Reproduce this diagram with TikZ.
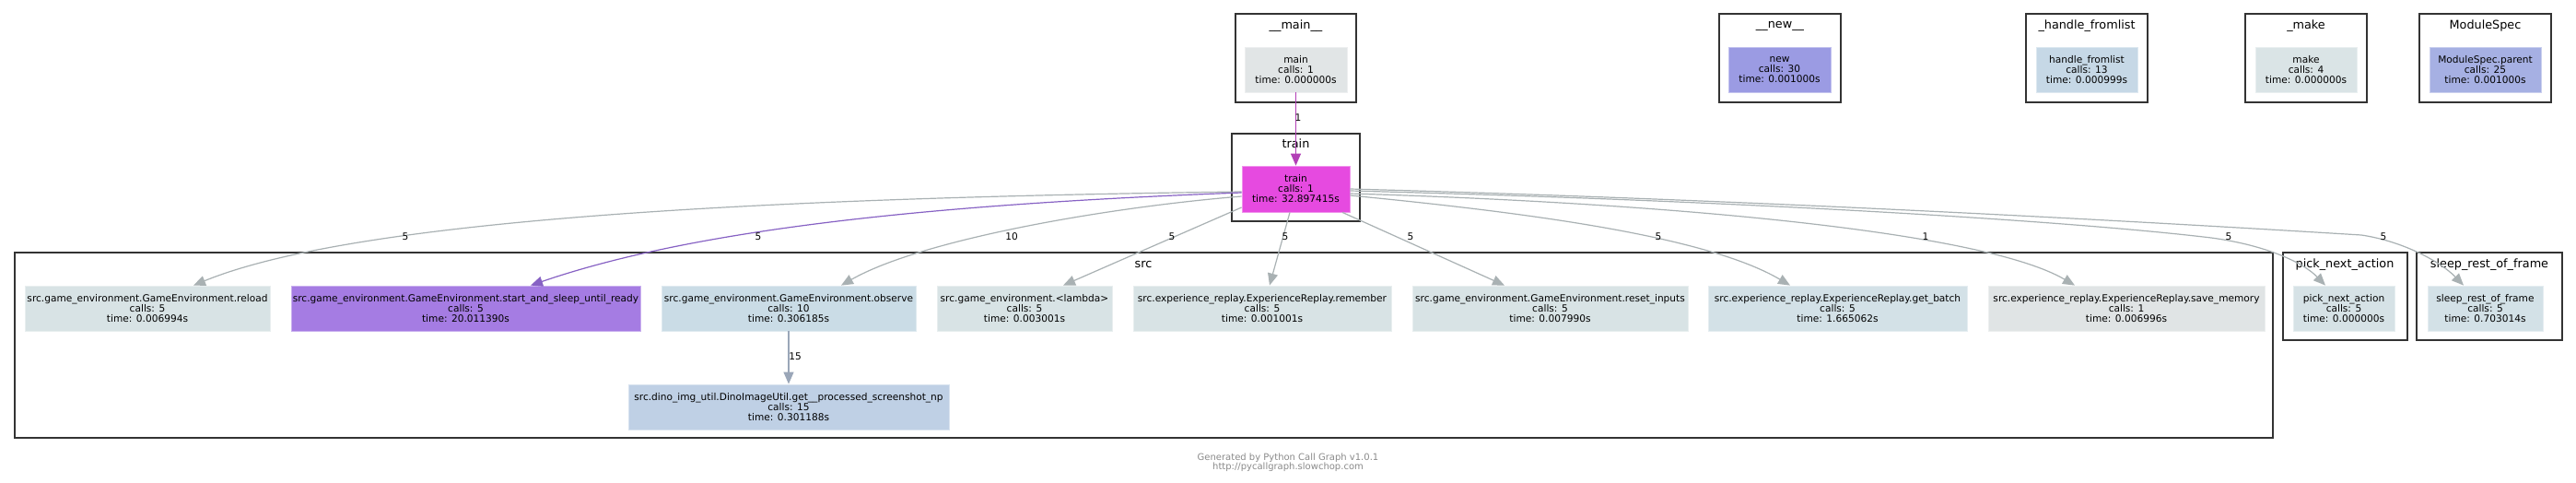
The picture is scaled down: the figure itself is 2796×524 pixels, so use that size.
\documentclass[tikz,border=0pt]{standalone}
\usepackage{fontspec}
\setmainfont{DejaVu Sans}
\usetikzlibrary{arrows.meta}
\definecolor{cFrame}{HTML}{333333}
\definecolor{cEdge}{HTML}{A9B1B3}
\definecolor{cMainEdge}{HTML}{B23FB6}
\definecolor{cStartEdge}{HTML}{8762C4}
\definecolor{cDinoEdge}{HTML}{9AA6B8}
\definecolor{cMain}{HTML}{E1E5E6}
\definecolor{cNew}{HTML}{9B9BE3}
\definecolor{cHandle}{HTML}{C6D8E6}
\definecolor{cMake}{HTML}{DAE4E6}
\definecolor{cSpec}{HTML}{A6B0E3}
\definecolor{cTrain}{HTML}{E64AE0}
\definecolor{cPale}{HTML}{D8E3E5}
\definecolor{cStart}{HTML}{A57CE3}
\definecolor{cObserve}{HTML}{CADCE6}
\definecolor{cBatch}{HTML}{D3E1E7}
\definecolor{cSave}{HTML}{E0E4E5}
\definecolor{cPick}{HTML}{D6E2E6}
\definecolor{cDino}{HTML}{BFD0E5}
\definecolor{cFoot}{HTML}{8A8A8A}
\tikzset{
  fn/.style 2 args={fill=#1, draw=#1!60!white, line width=0.4pt, minimum width=#2,
    minimum height=24.5pt, inner sep=0pt, align=center,
    font=\fontsize{5.3}{5.5}\selectfont},
  grp/.style={draw=cFrame, line width=1pt},
  grplab/.style={font=\fontsize{6.4}{7}\selectfont, inner sep=0pt},
  call/.style={draw=#1, line width=0.6pt, -{Triangle[length=6.5pt,width=5.5pt]}},
  cnt/.style={font=\fontsize{5.3}{6}\selectfont, inner sep=0pt},
  foot/.style={text=cFoot, align=center, inner sep=0pt, font=\fontsize{5}{5.2}\selectfont},
}
\begin{document}
\begin{tikzpicture}
    \begin{scope}[x=0.5pt,y=-0.5pt]
      \fill[white] (0,0) rectangle (2796,524);
      \useasboundingbox (0,0) rectangle (2796,524);
      % groups
      \draw[grp] (1341,15) rectangle (1472,111);
      \draw[grp] (1866,15) rectangle (1998,111);
      \draw[grp] (2199,15) rectangle (2331,111);
      \draw[grp] (2437,15) rectangle (2569,111);
      \draw[grp] (2626,15) rectangle (2769,111);
      \draw[grp] (1337,145) rectangle (1476,240);
      \draw[grp] (16,274) rectangle (2467,475);
      \draw[grp] (2478,274) rectangle (2613,369);
      \draw[grp] (2623,274) rectangle (2781,369);
      \node[grplab] (g-main) at (1406.5,28) {\_\_main\_\_};
      \node[grplab] (g-new) at (1932,28) {\_\_new\_\_};
      \node[grplab] (g-handle) at (2265,28) {\_handle\_fromlist};
      \node[grplab] (g-make) at (2503,28) {\_make};
      \node[grplab] (g-spec) at (2697.5,28) {ModuleSpec};
      \node[grplab] (g-train) at (1406.5,156) {train};
      \node[grplab] (g-src) at (1241,287) {src};
      \node[grplab] (g-pick) at (2545,287) {pick\_next\_action};
      \node[grplab] (g-sleep) at (2702,287) {sleep\_rest\_of\_frame};
      % functions
      \node[fn={cMain}{55.5pt}] (main) at (1406.5,75.5) {main\\calls: 1\\time: 0.000000s};
      \node[fn={cNew}{55.5pt}] (new) at (1931.5,75.5) {new\\calls: 30\\time: 0.001000s};
      \node[fn={cHandle}{55pt}] (handle) at (2265,75.5) {handle\_fromlist\\calls: 13\\time: 0.000999s};
      \node[fn={cMake}{55pt}] (make) at (2503,75.5) {make\\calls: 4\\time: 0.000000s};
      \node[fn={cSpec}{60.5pt}] (spec) at (2697.5,75.5) {ModuleSpec.parent\\calls: 25\\time: 0.001000s};
      \node[fn={cTrain}{58.5pt}, minimum height=25pt] (train) at (1406.5,205) {train\\calls: 1\\time: 32.897415s};
      \node[fn={cPale}{133pt}] (reload) at (160,334.5) {src.game\_environment.GameEnvironment.reload\\calls: 5\\time: 0.006994s};
      \node[fn={cStart}{189.5pt}] (start) at (505.5,334.5) {src.game\_environment.GameEnvironment.start\_and\_sleep\_until\_ready\\calls: 5\\time: 20.011390s};
      \node[fn={cObserve}{138pt}] (observe) at (856,334.5) {src.game\_environment.GameEnvironment.observe\\calls: 10\\time: 0.306185s};
      \node[fn={cPale}{95pt}] (lambda) at (1112,334.5) {src.game\_environment.\textless lambda\textgreater\\calls: 5\\time: 0.003001s};
      \node[fn={cPale}{140pt}] (remember) at (1370,334.5) {src.experience\_replay.ExperienceReplay.remember\\calls: 5\\time: 0.001001s};
      \node[fn={cPale}{149.5pt}] (reset) at (1682.5,334.5) {src.game\_environment.GameEnvironment.reset\_inputs\\calls: 5\\time: 0.007990s};
      \node[fn={cBatch}{140.5pt}] (batch) at (1994.5,334.5) {src.experience\_replay.ExperienceReplay.get\_batch\\calls: 5\\time: 1.665062s};
      \node[fn={cSave}{150pt}] (save) at (2308,334.5) {src.experience\_replay.ExperienceReplay.save\_memory\\calls: 1\\time: 0.006996s};
      \node[fn={cPick}{55pt}] (pick) at (2544,334.5) {pick\_next\_action\\calls: 5\\time: 0.000000s};
      \node[fn={cBatch}{62.5pt}] (sleep) at (2697.5,334.5) {sleep\_rest\_of\_frame\\calls: 5\\time: 0.703014s};
      \node[fn={cDino}{174pt}] (dino) at (856,441.5) {src.dino\_img\_util.DinoImageUtil.get\_\_processed\_screenshot\_np\\calls: 15\\time: 0.301188s};
      % calls
      \draw[call=cMainEdge] (main) -- (train);
      \draw[call=cEdge] ([yshift=-1.5pt]train.west) .. controls (800,215) and (380,240) .. ([xshift=25pt]reload.north);
      \draw[call=cStartEdge] ([yshift=-2pt]train.west) .. controls (1000,222) and (750,250) .. ([xshift=35.25pt]start.north);
      \draw[call=cEdge] ([yshift=-4pt]train.west) .. controls (1200,225) and (1000,260) .. ([xshift=28.5pt]observe.north);
      \draw[call=cEdge] ([yshift=-10pt]train.west) -- ([xshift=21pt]lambda.north);
      \draw[call=cEdge] ([xshift=-3.25pt]train.south) -- ([xshift=4pt]remember.north);
      \draw[call=cEdge] ([xshift=25.25pt]train.south) -- ([xshift=-24.75pt]reset.north);
      \draw[call=cEdge] ([yshift=-3.5pt]train.east) .. controls (1650,230) and (1850,255) .. ([xshift=-25.75pt]batch.north);
      \draw[call=cEdge] ([yshift=-2.5pt]train.east) .. controls (1800,220) and (2150,250) .. ([xshift=-28pt]save.north);
      \draw[call=cEdge] ([yshift=-1pt]train.east) .. controls (1900,218) and (2250,240) .. (2400,258)
        .. controls (2460,266) and (2500,285) .. ([xshift=-10pt]pick.north);
      \draw[call=cEdge] (train.east) .. controls (1950,218) and (2400,245) .. (2563,255)
        .. controls (2610,262) and (2650,285) .. ([xshift=-11.75pt]sleep.north);
      \draw[call=cDinoEdge] (observe) -- (dino);
      % call counts
      \node[cnt] (n-train) at (1409,128) {1};
      \node[cnt] (n-reload) at (440,257) {5};
      \node[cnt] (n-start) at (823,257) {5};
      \node[cnt] (n-observe) at (1098,257) {10};
      \node[cnt] (n-lambda) at (1272,257) {5};
      \node[cnt] (n-remember) at (1395,257) {5};
      \node[cnt] (n-reset) at (1531,257) {5};
      \node[cnt] (n-batch) at (1800,257) {5};
      \node[cnt] (n-save) at (2090,257) {1};
      \node[cnt] (n-pick) at (2419,257) {5};
      \node[cnt] (n-sleep) at (2587,257) {5};
      \node[cnt] (n-dino) at (863,387) {15};
      \node[foot] (credit) at (1398,502) {Generated by Python Call Graph v1.0.1\\http://pycallgraph.slowchop.com};
    \end{scope}
  \end{tikzpicture}
\end{document}
